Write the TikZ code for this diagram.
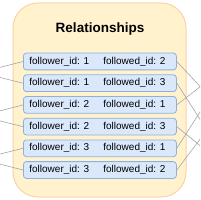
\documentclass[tikz,border=0pt]{standalone}
\usepackage{fontspec}
\setmainfont{Liberation Sans}
\usepackage{xcolor}
\usetikzlibrary{positioning,calc}
\definecolor{tablefill}{HTML}{FFF2CC}
\definecolor{tabledraw}{HTML}{F9D3A6}
\definecolor{rowfill}{HTML}{DAE8FC}
\definecolor{rowdraw}{HTML}{8FB0DE}
\definecolor{linkgray}{HTML}{A6A6A6}

\begin{document}
\begin{tikzpicture}[
    x=1pt, y=-1pt,
    table_block/.style={rectangle, draw=tabledraw, fill=tablefill, line width=1pt, rounded corners=25pt},
    row_block/.style={rectangle, draw=rowdraw, fill=rowfill, line width=0.8pt, rounded corners=3pt, minimum width=153pt, minimum height=16.8pt, inner xsep=6pt, inner ysep=0pt, anchor=west, font=\fontsize{10}{12}\selectfont},
    title/.style={font=\fontsize{13.5}{16}\selectfont\bfseries},
    line/.style={draw=linkgray, line width=0.6pt}
]
\useasboundingbox (0,0) rectangle (200,200);
\clip (0,0) rectangle (200,200);

% Nodes
\draw[table_block] (13,3) rectangle (186,197);
\node[title] (ttl) at (100,29) {Relationships};

\coordinate (u1) at (-20,72.5);
\coordinate (u2) at (-20,116);
\coordinate (u3) at (-20,159);
\coordinate (v1) at (232,62);
\coordinate (v2) at (222,110);
\coordinate (v3) at (236,175);

\foreach \a/\b [count=\i] in {1/2,1/3,2/1,2/3,3/1,3/2}{
  \node[row_block] (r\i) at (23,{61.5+(\i-1)*21.7}) {\makebox[74pt][l]{follower\_id: \a}\makebox[67pt][l]{followed\_id: \b}};
  % Connections
  \path[line] (u\a) -- (r\i.west);
  \path[line] (r\i.east) -- (v\b);
}

\end{tikzpicture}
\end{document}
